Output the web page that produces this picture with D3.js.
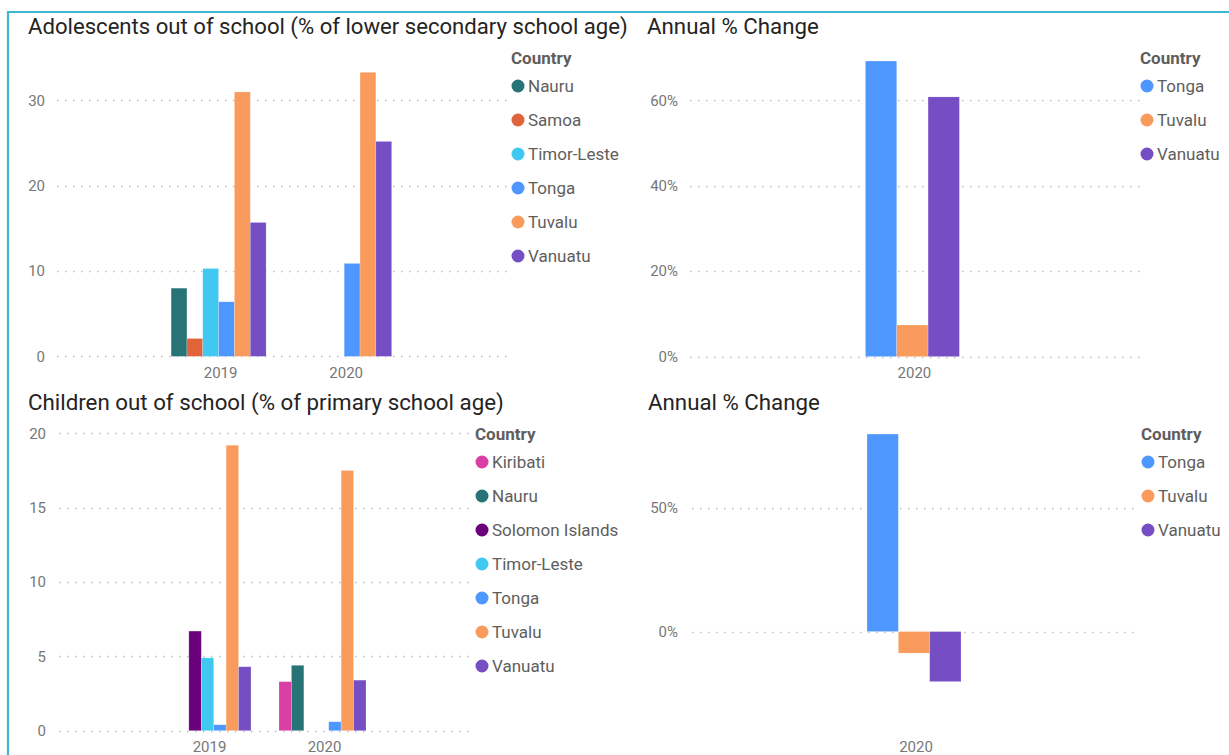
<!DOCTYPE html>
<html>
<head>
<meta charset="utf-8">
<script src="https://cdn.jsdelivr.net/npm/d3@7"></script>
<style>
  body { margin: 0; background: #fff; }
  svg { display: block; font-family: Roboto, "Noto Sans", sans-serif; }
  .grid line { stroke: #bcbcbc; stroke-width: 1.3; stroke-dasharray: 1.5,6.5; }
  .tick-label { fill: #777; font-size: 15px; }
  .title { fill: #252423; }
  .legend-head { fill: #605e5c; font-weight: bold; font-size: 17px; }
  .legend-item { fill: #605e5c; font-size: 17px; }
</style>
</head>
<body>
<svg width="1229" height="755"></svg>
<script>
var svg = d3.select('svg');

// years on the x axis
var years = ['2019', '2020'];
var changeYears = ['2020'];

// Adolescents out of school (% of lower secondary school age)
var adolCountries = ['Nauru', 'Samoa', 'Timor-Leste', 'Tonga', 'Tuvalu', 'Vanuatu'];
var adol2019 = [8.0, 2.1, 10.3, 6.4, 31.0, 15.7];
var adol2020 = [null, null, null, 10.9, 33.3, 25.2];
var adolTicks = [0, 10, 20, 30];

// Annual % change (adolescents)
var adolChangeCountries = ['Tonga', 'Tuvalu', 'Vanuatu'];
var adolChange2020 = [69.2, 7.4, 60.8];
var adolChangeTicks = [0, 20, 40, 60];

// Children out of school (% of primary school age)
var childCountries = ['Kiribati', 'Nauru', 'Solomon Islands', 'Timor-Leste', 'Tonga', 'Tuvalu', 'Vanuatu'];
var child2019 = [null, null, 6.7, 4.9, 0.4, 19.2, 4.3];
var child2020 = [3.3, 4.4, null, null, 0.6, 17.5, 3.4];
var childTicks = [0, 5, 10, 15, 20];

// Annual % change (children)
var childChangeCountries = ['Tonga', 'Tuvalu', 'Vanuatu'];
var childChange2020 = [79.7, -8.7, -20.2];
var childChangeTicks = [0, 50];

var colors = {
  'Kiribati': '#d93fa5',
  'Nauru': '#277376',
  'Samoa': '#e0633a',
  'Solomon Islands': '#6b007b',
  'Timor-Leste': '#41c8f0',
  'Tonga': '#4e97ff',
  'Tuvalu': '#f89b5c',
  'Vanuatu': '#744ec2'
};

// build rows {year, country, value} from the arrays
function rows(cats, countries, seriesByYear) {
  var out = [];
  cats.forEach(function(y, i) {
    countries.forEach(function(c, j) {
      var v = seriesByYear[i][j];
      if (v != null) out.push({ year: y, country: c, value: v });
    });
  });
  return out;
}

// border of the report page
svg.append('path')
   .attr('d', 'M8,755 L8,12 L1229,12')
   .attr('fill', 'none')
   .attr('stroke', '#3db6d4')
   .attr('stroke-width', 2.2);

function drawPanel(cfg) {
  var g = svg.append('g');

  // title, sized to span the same width as the original
  var t = g.append('text')
     .attr('class', 'title')
     .attr('x', cfg.titleX)
     .attr('y', cfg.titleY)
     .style('font-size', '20px')
     .text(cfg.title);
  var w = t.node().getComputedTextLength();
  t.style('font-size', (20 * cfg.titleW / w) + 'px');

  var yScale = d3.scaleLinear().domain(cfg.yDomain).range(cfg.yRange);

  var n = cfg.cats.length;
  var x0 = d3.scaleBand()
     .domain(cfg.cats)
     .range([cfg.center - n * cfg.step / 2, cfg.center + n * cfg.step / 2])
     .paddingInner(1 - cfg.groupW / cfg.step)
     .paddingOuter((1 - cfg.groupW / cfg.step) / 2);
  var x1 = d3.scaleBand()
     .domain(cfg.countries)
     .range([0, x0.bandwidth()]);

  // dotted gridlines
  g.append('g')
     .attr('class', 'grid')
     .selectAll('line')
     .data(cfg.ticks)
     .enter()
     .append('line')
     .attr('x1', cfg.gridX[0])
     .attr('x2', cfg.gridX[1])
     .attr('y1', function(d) { return Math.round(yScale(d)) + 0.5; })
     .attr('y2', function(d) { return Math.round(yScale(d)) + 0.5; });

  // y tick labels
  g.selectAll('.ytick')
     .data(cfg.ticks)
     .enter()
     .append('text')
     .attr('class', 'tick-label')
     .attr('x', cfg.tickX)
     .attr('y', function(d) { return yScale(d); })
     .attr('dy', '0.35em')
     .attr('text-anchor', 'end')
     .text(cfg.fmt);

  // bars
  g.selectAll('.bar')
     .data(cfg.data)
     .enter()
     .append('rect')
     .attr('class', 'bar')
     .attr('x', function(d) { return x0(d.year) + x1(d.country); })
     .attr('width', x1.bandwidth())
     .attr('y', function(d) { return yScale(Math.max(0, d.value)); })
     .attr('height', function(d) { return Math.abs(yScale(d.value) - yScale(0)); })
     .style('fill', function(d) { return colors[d.country]; })
     .style('stroke', '#ffffff')
     .style('stroke-opacity', 0.35)
     .style('stroke-width', 0.6);

  // x category labels
  g.selectAll('.xtick')
     .data(cfg.cats)
     .enter()
     .append('text')
     .attr('class', 'tick-label')
     .attr('x', function(d) { return x0(d) + x0.bandwidth() / 2 + 2; })
     .attr('y', cfg.xLabelY)
     .attr('text-anchor', 'middle')
     .text(function(d) { return d; });

  // legend
  var lg = g.append('g').attr('transform', 'translate(' + cfg.legendX + ',' + cfg.legendY + ')');
  lg.append('text')
     .attr('class', 'legend-head')
     .attr('x', 0)
     .attr('y', 0)
     .attr('dy', '0.35em')
     .text('Country');
  var items = lg.selectAll('.li')
     .data(cfg.countries)
     .enter()
     .append('g')
     .attr('transform', function(d, i) { return 'translate(0,' + (28 + i * 34) + ')'; });
  items.append('circle')
     .attr('cx', 7)
     .attr('cy', 0)
     .attr('r', 6.5)
     .style('fill', function(d) { return colors[d]; });
  items.append('text')
     .attr('class', 'legend-item')
     .attr('x', 17)
     .attr('y', 0)
     .attr('dy', '0.35em')
     .text(function(d) { return d; });
}

var numFmt = function(d) { return d; };
var pctFmt = function(d) { return d + '%'; };

drawPanel({
  title: 'Adolescents out of school (% of lower secondary school age)',
  titleX: 28, titleY: 34, titleW: 600,
  cats: years, countries: adolCountries,
  data: rows(years, adolCountries, [adol2019, adol2020]),
  yDomain: [0, 35], yRange: [356.4, 57.8], ticks: adolTicks, fmt: numFmt,
  gridX: [57, 510], tickX: 45,
  center: 281.4, step: 125.6, groupW: 95,
  xLabelY: 378,
  legendX: 511, legendY: 58
});

drawPanel({
  title: 'Annual % Change',
  titleX: 647, titleY: 34, titleW: 172,
  cats: changeYears, countries: adolChangeCountries,
  data: rows(changeYears, adolChangeCountries, [adolChange2020]),
  yDomain: [0, 70], yRange: [356.6, 57.6], ticks: adolChangeTicks, fmt: pctFmt,
  gridX: [690, 1140], tickX: 678,
  center: 912.4, step: 200, groupW: 94,
  xLabelY: 378,
  legendX: 1140, legendY: 58
});

drawPanel({
  title: 'Children out of school (% of primary school age)',
  titleX: 28, titleY: 410, titleW: 476,
  cats: years, countries: childCountries,
  data: rows(years, childCountries, [child2019, child2020]),
  yDomain: [0, 20], yRange: [730.7, 433.3], ticks: childTicks, fmt: numFmt,
  gridX: [59, 469], tickX: 46,
  center: 265, step: 115, groupW: 87,
  xLabelY: 752,
  legendX: 475, legendY: 434
});

drawPanel({
  title: 'Annual % Change',
  titleX: 648, titleY: 410, titleW: 172,
  cats: changeYears, countries: childChangeCountries,
  data: rows(changeYears, childChangeCountries, [childChange2020]),
  yDomain: [-40, 80], yRange: [730.7, 433.3], ticks: childChangeTicks, fmt: pctFmt,
  gridX: [692, 1140], tickX: 678,
  center: 914, step: 200, groupW: 94,
  xLabelY: 752,
  legendX: 1141, legendY: 434
});
</script>
</body>
</html>
